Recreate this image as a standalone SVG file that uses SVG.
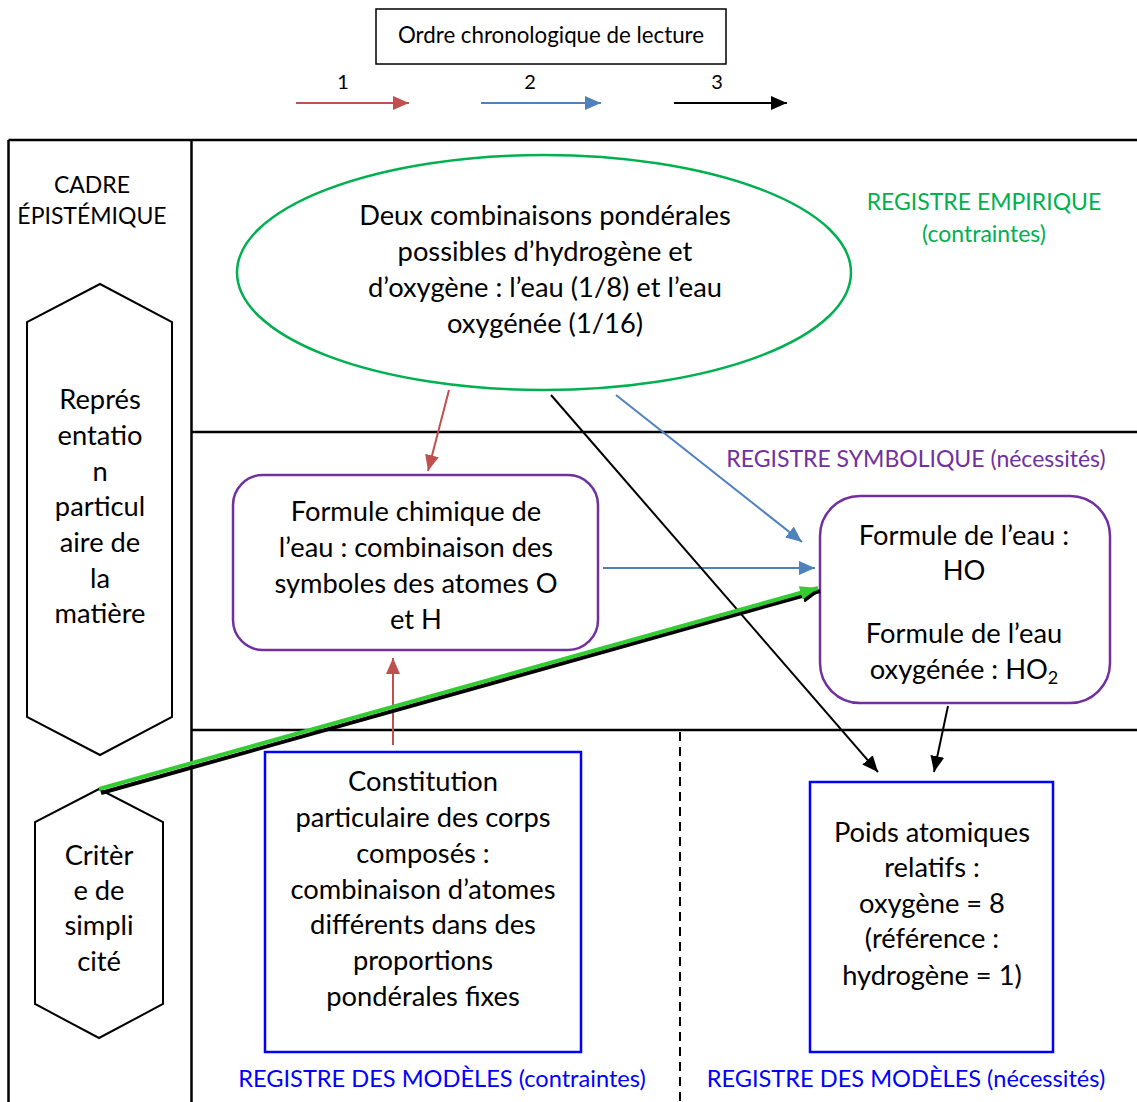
<svg xmlns="http://www.w3.org/2000/svg" width="1137" height="1102" viewBox="0 0 1137 1102">
<style>
text{font-family:"Lato","Liberation Sans",sans-serif;text-anchor:middle;fill:#000}
.t{font-size:27.3px}
.s{font-size:23px}
.frame{stroke:#000;stroke-width:2.5;fill:none}
.hex{stroke:#000;stroke-width:2;fill:#fff}
.red{stroke:#C0504D;stroke-width:2;fill:none}
.blue{stroke:#4F81BD;stroke-width:2;fill:none}
.blk{stroke:#000;stroke-width:2;fill:none}
.purp{stroke:#7030A0;stroke-width:2.5;fill:#fff}
.bbox{stroke:#0000FF;stroke-width:2.5;fill:#fff}
.green{fill:#00B050}
.violet{fill:#7030A0}
.bl{fill:#0000FF}
</style>
<defs>
<marker id="mr" markerUnits="userSpaceOnUse" markerWidth="16" markerHeight="14" refX="16" refY="7" orient="auto"><path d="M0,0 L16,7 L0,14 z" fill="#C0504D"/></marker>
<marker id="mb" markerUnits="userSpaceOnUse" markerWidth="16" markerHeight="14" refX="16" refY="7" orient="auto"><path d="M0,0 L16,7 L0,14 z" fill="#4F81BD"/></marker>
<marker id="mk" markerUnits="userSpaceOnUse" markerWidth="16" markerHeight="14" refX="16" refY="7" orient="auto"><path d="M0,0 L16,7 L0,14 z" fill="#000"/></marker>
<marker id="mg" markerUnits="userSpaceOnUse" markerWidth="18" markerHeight="14" refX="18" refY="7" orient="auto"><path d="M0,0 L18,7 L0,14 z" fill="#33CC33"/></marker>
<marker id="mgs" markerUnits="userSpaceOnUse" markerWidth="18" markerHeight="14" refX="18" refY="7" orient="auto"><path d="M0,0 L18,7 L0,14 z" fill="#000"/></marker>
</defs>

<g id="legend">
<rect x="376" y="9" width="350" height="55" fill="#fff" stroke="#000" stroke-width="1.5"/>
<text x="551" y="43" style="font-size:22.3px">Ordre chronologique de lecture</text>
<text x="343" y="89" style="font-size:20px">1</text>
<text x="530" y="89" style="font-size:20px">2</text>
<text x="717" y="89" style="font-size:20px">3</text>
<line x1="296" y1="103" x2="409" y2="103" class="red" marker-end="url(#mr)"/>
<line x1="481" y1="103" x2="601" y2="103" class="blue" marker-end="url(#mb)"/>
<line x1="674" y1="103" x2="787" y2="103" class="blk" marker-end="url(#mk)"/>
</g>

<g id="frame">
<line x1="8.5" y1="140" x2="1137" y2="140" class="frame"/>
<line x1="8.5" y1="140" x2="8.5" y2="1102" class="frame"/>
<line x1="191.5" y1="140" x2="191.5" y2="1102" class="frame"/>
<line x1="191.5" y1="432" x2="1137" y2="432" class="frame"/>
<line x1="191.5" y1="730" x2="1137" y2="730" class="frame"/>
<line x1="680" y1="732" x2="680" y2="1102" stroke="#000" stroke-width="2" stroke-dasharray="9,6"/>
</g>

<g id="labels">
<text x="92" y="193" class="s">CADRE</text>
<text x="92" y="224" class="s">ÉPISTÉMIQUE</text>
<text x="984" y="210" class="s green">REGISTRE EMPIRIQUE</text>
<text x="984" y="242" class="s green">(contraintes)</text>
<text x="916" y="467" class="s violet">REGISTRE SYMBOLIQUE (nécessités)</text>
<text x="442" y="1087" class="bl" style="font-size:23.6px">REGISTRE DES MODÈLES (contraintes)</text>
<text x="906" y="1087" class="bl" style="font-size:23.6px">REGISTRE DES MODÈLES (nécessités)</text>
</g>

<g id="node-representation">
<polygon points="100,284 172,322 172,717 100,755 27,717 27,322" class="hex"/>
<text class="t"><tspan x="100" y="409">Représ</tspan><tspan x="100" y="445">entatio</tspan><tspan x="100" y="481">n</tspan><tspan x="100" y="516">particul</tspan><tspan x="100" y="552">aire de</tspan><tspan x="100" y="588">la</tspan><tspan x="100" y="623">matière</tspan></text>
</g>

<g id="node-critere">
<polygon points="99,789 163,822 163,1004 99,1038 35,1004 35,822" class="hex"/>
<text class="t"><tspan x="99" y="865">Critèr</tspan><tspan x="99" y="900">e de</tspan><tspan x="99" y="935">simpli</tspan><tspan x="99" y="971">cité</tspan></text>
</g>

<g id="node-empirique">
<ellipse cx="544" cy="272.5" rx="307" ry="117.5" fill="#fff" stroke="#00B050" stroke-width="2.5"/>
<text class="t"><tspan x="545" y="225">Deux combinaisons pondérales</tspan><tspan x="545" y="261">possibles d’hydrogène et</tspan><tspan x="545" y="297">d’oxygène : l’eau (1/8) et l’eau</tspan><tspan x="545" y="333">oxygénée (1/16)</tspan></text>
</g>

<g id="node-formule-chimique">
<rect x="233" y="475" width="365" height="175" rx="30" class="purp"/>
<text class="t"><tspan x="416" y="521">Formule chimique de</tspan><tspan x="416" y="557">l’eau : combinaison des</tspan><tspan x="416" y="593">symboles des atomes O</tspan><tspan x="416" y="629">et H</tspan></text>
</g>

<g id="node-formules">
<rect x="820" y="496" width="290" height="207" rx="40" class="purp"/>
<text class="t"><tspan x="964" y="545">Formule de l’eau :</tspan><tspan x="964" y="580">HO</tspan><tspan x="964" y="643">Formule de l’eau</tspan><tspan x="964" y="679">oxygénée : HO<tspan dy="5" style="font-size:18px">2</tspan></tspan></text>
</g>

<g id="node-constitution">
<rect x="265" y="752" width="316" height="300" class="bbox"/>
<text class="t"><tspan x="423" y="791">Constitution</tspan><tspan x="423" y="827">particulaire des corps</tspan><tspan x="423" y="863">composés :</tspan><tspan x="423" y="899">combinaison d’atomes</tspan><tspan x="423" y="934">différents dans des</tspan><tspan x="423" y="970">proportions</tspan><tspan x="423" y="1006">pondérales fixes</tspan></text>
</g>

<g id="node-poids">
<rect x="810" y="782" width="243" height="270" class="bbox"/>
<text class="t"><tspan x="932" y="842">Poids atomiques</tspan><tspan x="932" y="877">relatifs :</tspan><tspan x="932" y="913">oxygène = 8</tspan><tspan x="932" y="948">(référence :</tspan><tspan x="932" y="985">hydrogène = 1)</tspan></text>
</g>

<g id="connectors">
<line x1="449" y1="390" x2="428" y2="471" class="red" marker-end="url(#mr)"/>
<line x1="393" y1="745" x2="393" y2="658" class="red" marker-end="url(#mr)"/>
<line x1="616" y1="395" x2="802" y2="542" class="blue" marker-end="url(#mb)"/>
<line x1="603" y1="568" x2="815" y2="568" class="blue" marker-end="url(#mb)"/>
<line x1="551" y1="395" x2="878" y2="772" class="blk" marker-end="url(#mk)"/>
<line x1="948" y1="706" x2="934" y2="772" class="blk" marker-end="url(#mk)"/>
<line x1="101" y1="793" x2="820" y2="591" stroke="#000" stroke-width="4" marker-end="url(#mgs)"/>
<line x1="99" y1="789" x2="818" y2="588" stroke="#33CC33" stroke-width="4" marker-end="url(#mg)"/>
</g>
</svg>
